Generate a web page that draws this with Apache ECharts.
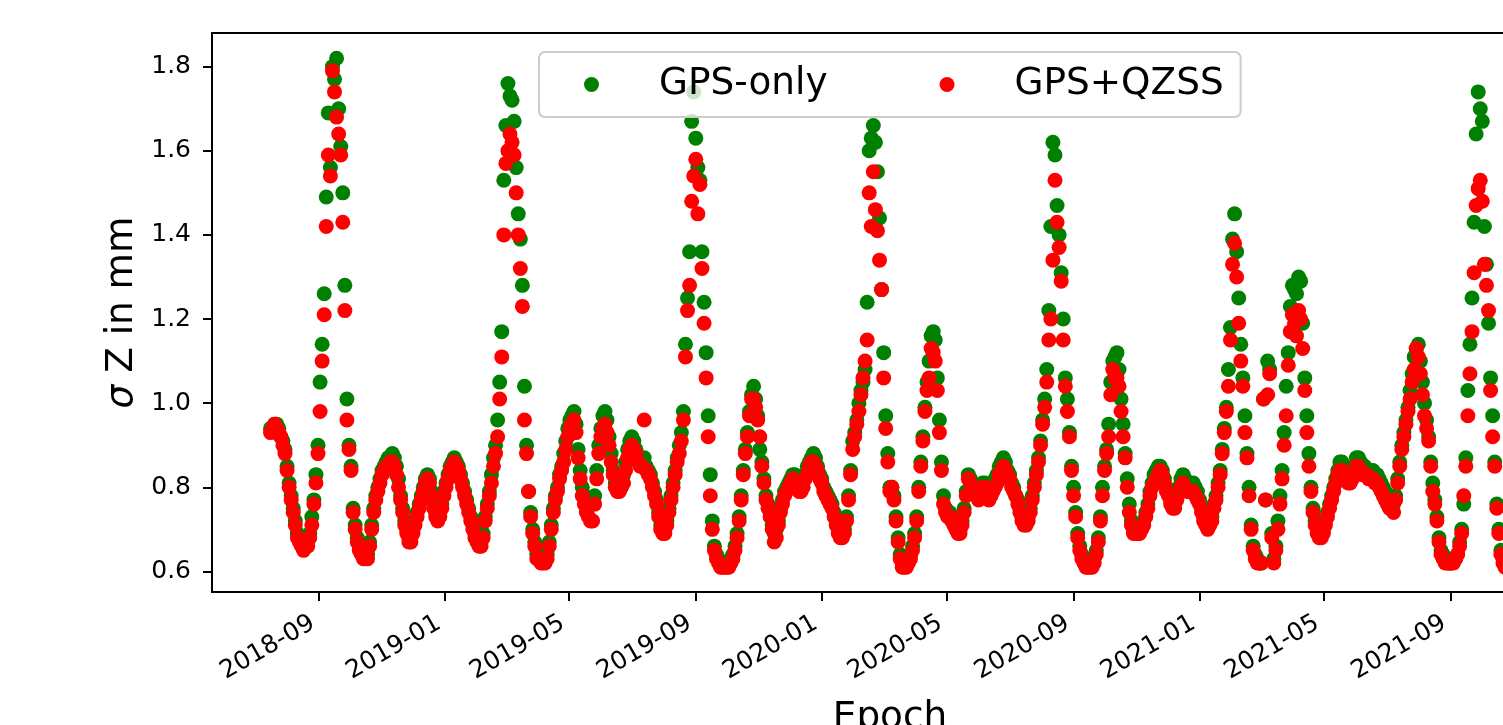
<!DOCTYPE html>
<html><head><meta charset="utf-8">
<script src="https://cdn.jsdelivr.net/npm/echarts@6/dist/echarts.min.js"></script>
<style>html,body{margin:0;padding:0;background:#fff}#c{width:1503px;height:725px}</style>
</head><body><div id="c"></div>
<script>
// Data (sampled every 2 days starting 2018-07-16)
const startDate = '2018-07-16';
const stepDays = 2;
const xTickLabels = ['2018-09','2019-01','2019-05','2019-09','2020-01','2020-05','2020-09','2021-01','2021-05','2021-09'];
const yTickValues = [0.6,0.8,1.0,1.2,1.4,1.6,1.8];
const seriesNames = ['GPS-only','GPS+QZSS'];

const gpsOnly = [
0.94,0.94,0.95,0.95,0.94,0.92,0.91,0.89,0.85,0.81,
0.78,0.75,0.72,0.69,0.68,0.67,0.66,0.67,0.67,0.69,
0.73,0.77,0.83,0.90,1.05,1.14,1.26,1.49,1.69,1.56,
1.80,1.77,1.82,1.70,1.61,1.50,1.28,1.01,0.90,0.85,
0.75,0.71,0.68,0.66,0.65,0.64,0.64,0.64,0.67,0.71,
0.75,0.78,0.80,0.82,0.84,0.85,0.86,0.87,0.87,0.88,
0.87,0.85,0.82,0.78,0.75,0.72,0.70,0.68,0.68,0.70,
0.72,0.74,0.76,0.78,0.80,0.82,0.83,0.82,0.79,0.76,
0.74,0.73,0.74,0.76,0.79,0.81,0.83,0.85,0.86,0.87,
0.86,0.85,0.83,0.81,0.79,0.77,0.75,0.73,0.71,0.69,
0.68,0.67,0.67,0.69,0.73,0.76,0.79,0.83,0.87,0.90,
0.96,1.05,1.17,1.53,1.66,1.76,1.73,1.72,1.67,1.56,
1.45,1.39,1.28,1.04,0.90,0.79,0.74,0.70,0.67,0.64,
0.64,0.63,0.63,0.63,0.64,0.67,0.71,0.75,0.78,0.80,
0.83,0.85,0.88,0.91,0.94,0.96,0.97,0.98,0.95,0.89,
0.84,0.80,0.78,0.77,0.76,0.76,0.76,0.78,0.84,0.90,
0.94,0.97,0.98,0.96,0.92,0.88,0.84,0.81,0.80,0.80,
0.81,0.83,0.86,0.89,0.91,0.92,0.91,0.89,0.87,0.86,
0.86,0.87,0.85,0.84,0.83,0.81,0.79,0.77,0.74,0.71,
0.70,0.70,0.72,0.75,0.78,0.81,0.84,0.87,0.90,0.93,
0.98,1.14,1.25,1.36,1.67,1.74,1.63,1.56,1.53,1.36,
1.24,1.12,0.97,0.83,0.72,0.66,0.64,0.63,0.62,0.62,
0.62,0.62,0.62,0.63,0.64,0.66,0.69,0.73,0.78,0.84,
0.89,0.93,0.98,1.02,1.04,1.01,0.97,0.89,0.86,0.82,
0.78,0.76,0.74,0.71,0.69,0.70,0.72,0.75,0.77,0.79,
0.80,0.81,0.82,0.83,0.83,0.82,0.81,0.81,0.82,0.83,
0.85,0.86,0.87,0.88,0.87,0.85,0.83,0.82,0.80,0.79,
0.78,0.77,0.76,0.74,0.72,0.70,0.69,0.69,0.70,0.73,
0.78,0.84,0.91,0.93,0.96,1.00,1.03,1.05,1.08,1.24,
1.60,1.63,1.66,1.62,1.55,1.44,1.27,1.12,0.97,0.88,
0.80,0.80,0.78,0.73,0.68,0.64,0.62,0.62,0.62,0.63,
0.64,0.66,0.69,0.73,0.80,0.86,0.92,0.99,1.05,1.10,
1.16,1.17,1.15,1.06,0.96,0.86,0.78,0.75,0.74,0.74,
0.73,0.72,0.71,0.70,0.70,0.72,0.75,0.79,0.83,0.82,
0.81,0.80,0.79,0.79,0.80,0.81,0.81,0.80,0.79,0.80,
0.81,0.82,0.83,0.85,0.86,0.87,0.86,0.84,0.83,0.81,
0.80,0.78,0.77,0.75,0.73,0.72,0.72,0.73,0.75,0.78,
0.81,0.84,0.87,0.91,0.96,1.01,1.08,1.22,1.42,1.62,
1.59,1.47,1.40,1.31,1.20,1.06,1.01,0.93,0.85,0.80,
0.74,0.69,0.66,0.64,0.63,0.62,0.62,0.62,0.62,0.63,
0.65,0.68,0.73,0.80,0.85,0.89,0.95,1.05,1.10,1.11,
1.12,1.08,1.01,0.95,0.88,0.82,0.76,0.72,0.70,0.70,
0.70,0.70,0.71,0.72,0.74,0.76,0.79,0.81,0.83,0.84,
0.85,0.85,0.84,0.82,0.80,0.79,0.77,0.76,0.76,0.78,
0.80,0.82,0.83,0.82,0.81,0.80,0.80,0.81,0.80,0.79,
0.77,0.75,0.73,0.72,0.72,0.72,0.73,0.76,0.78,0.81,
0.84,0.89,0.94,0.99,1.08,1.18,1.39,1.45,1.36,1.25,
1.14,1.06,0.97,0.88,0.80,0.71,0.66,0.64,0.63,0.62,
0.62,1.01,0.77,1.10,1.08,0.69,0.63,0.66,0.72,0.78,
0.84,0.93,1.04,1.12,1.23,1.28,1.27,1.26,1.30,1.29,
1.19,1.06,0.97,0.88,0.80,0.75,0.72,0.70,0.69,0.69,
0.70,0.72,0.74,0.76,0.78,0.80,0.82,0.84,0.86,0.86,
0.85,0.84,0.83,0.83,0.84,0.85,0.87,0.87,0.86,0.85,
0.85,0.84,0.84,0.84,0.84,0.83,0.83,0.82,0.81,0.80,
0.79,0.78,0.77,0.76,0.76,0.78,0.82,0.86,0.90,0.93,
0.96,0.99,1.03,1.07,1.11,1.13,1.14,1.10,1.05,1.00,
0.96,0.92,0.86,0.81,0.77,0.73,0.68,0.65,0.64,0.63,
0.63,0.62,0.62,0.63,0.63,0.64,0.67,0.70,0.76,0.87,
1.03,1.14,1.25,1.43,1.64,1.74,1.70,1.67,1.42,1.33,
1.19,1.06,0.97,0.86,0.76,0.70,0.65,0.63,0.62,0.62
];

const gpsQzss = [
0.93,0.94,0.95,0.94,0.93,0.92,0.90,0.88,0.84,0.80,
0.77,0.74,0.71,0.68,0.67,0.66,0.65,0.66,0.66,0.68,
0.71,0.76,0.81,0.88,0.98,1.10,1.21,1.42,1.59,1.54,
1.79,1.74,1.68,1.64,1.59,1.43,1.22,0.96,0.89,0.84,
0.74,0.70,0.67,0.65,0.64,0.63,0.63,0.63,0.66,0.70,
0.74,0.77,0.79,0.81,0.83,0.84,0.85,0.85,0.86,0.86,
0.85,0.83,0.80,0.77,0.74,0.71,0.69,0.67,0.67,0.69,
0.71,0.73,0.75,0.77,0.79,0.81,0.82,0.81,0.78,0.75,
0.73,0.72,0.73,0.75,0.78,0.80,0.82,0.84,0.85,0.86,
0.85,0.84,0.82,0.80,0.78,0.76,0.74,0.72,0.70,0.68,
0.67,0.66,0.66,0.68,0.72,0.75,0.78,0.81,0.85,0.88,
0.92,1.01,1.11,1.40,1.57,1.60,1.64,1.62,1.59,1.50,
1.40,1.32,1.23,0.96,0.88,0.79,0.73,0.69,0.66,0.63,
0.63,0.62,0.62,0.62,0.63,0.66,0.70,0.74,0.77,0.79,
0.82,0.84,0.86,0.89,0.92,0.94,0.95,0.96,0.93,0.87,
0.82,0.78,0.76,0.74,0.73,0.72,0.72,0.76,0.82,0.88,
0.92,0.94,0.95,0.93,0.90,0.86,0.83,0.80,0.79,0.79,
0.80,0.81,0.84,0.87,0.89,0.90,0.89,0.88,0.86,0.85,
0.85,0.96,0.84,0.83,0.82,0.80,0.78,0.76,0.73,0.70,
0.69,0.69,0.71,0.74,0.77,0.80,0.83,0.86,0.88,0.91,
0.96,1.11,1.22,1.28,1.48,1.54,1.58,1.45,1.52,1.32,
1.19,1.06,0.92,0.78,0.70,0.65,0.63,0.62,0.61,0.61,
0.61,0.61,0.61,0.62,0.63,0.65,0.68,0.72,0.77,0.83,
0.88,0.92,0.97,1.01,1.01,0.99,0.96,0.92,0.85,0.81,
0.77,0.75,0.73,0.70,0.67,0.68,0.71,0.74,0.76,0.78,
0.79,0.80,0.81,0.82,0.81,0.80,0.79,0.79,0.80,0.82,
0.83,0.85,0.86,0.86,0.85,0.84,0.82,0.81,0.79,0.78,
0.77,0.76,0.75,0.73,0.71,0.69,0.68,0.68,0.69,0.72,
0.77,0.83,0.89,0.92,0.95,0.98,1.02,1.06,1.10,1.15,
1.50,1.42,1.55,1.46,1.41,1.34,1.27,1.06,0.94,0.86,
0.79,0.80,0.77,0.72,0.67,0.63,0.61,0.61,0.61,0.62,
0.63,0.65,0.68,0.72,0.79,0.85,0.91,0.98,1.03,1.06,
1.13,1.12,1.10,1.03,0.93,0.84,0.76,0.74,0.73,0.73,
0.72,0.71,0.70,0.69,0.69,0.71,0.74,0.78,0.82,0.81,
0.80,0.79,0.78,0.77,0.78,0.80,0.80,0.78,0.77,0.78,
0.79,0.80,0.81,0.83,0.84,0.85,0.84,0.83,0.82,0.80,
0.79,0.78,0.76,0.74,0.72,0.71,0.71,0.72,0.74,0.77,
0.80,0.83,0.86,0.90,0.95,0.99,1.05,1.15,1.20,1.34,
1.53,1.43,1.37,1.29,1.15,1.04,0.98,0.92,0.84,0.78,
0.73,0.68,0.65,0.63,0.62,0.61,0.61,0.61,0.61,0.62,
0.64,0.67,0.72,0.78,0.84,0.88,0.92,1.02,1.08,1.06,
1.06,1.04,0.98,0.92,0.87,0.80,0.74,0.71,0.69,0.69,
0.69,0.69,0.70,0.71,0.73,0.75,0.78,0.80,0.81,0.82,
0.83,0.84,0.83,0.81,0.79,0.78,0.76,0.75,0.75,0.77,
0.79,0.80,0.81,0.80,0.79,0.79,0.79,0.79,0.78,0.77,
0.76,0.74,0.72,0.71,0.70,0.71,0.72,0.75,0.77,0.80,
0.83,0.88,0.93,0.98,1.04,1.15,1.33,1.38,1.30,1.19,
1.10,1.04,0.93,0.87,0.78,0.70,0.65,0.63,0.62,0.62,
0.62,1.01,0.77,1.02,1.07,0.68,0.62,0.65,0.70,0.76,
0.82,0.90,0.97,1.09,1.17,1.21,1.19,1.16,1.22,1.20,
1.13,1.03,0.93,0.85,0.79,0.74,0.71,0.69,0.68,0.68,
0.69,0.71,0.73,0.75,0.77,0.79,0.81,0.83,0.84,0.84,
0.83,0.82,0.81,0.81,0.82,0.83,0.85,0.85,0.84,0.83,
0.83,0.83,0.82,0.82,0.82,0.81,0.81,0.80,0.79,0.78,
0.77,0.76,0.75,0.75,0.74,0.77,0.81,0.85,0.89,0.92,
0.95,0.98,1.01,1.05,1.08,1.13,1.11,1.07,1.02,0.97,
0.94,0.91,0.85,0.79,0.76,0.72,0.67,0.64,0.63,0.62,
0.62,0.62,0.62,0.62,0.63,0.64,0.66,0.69,0.78,0.85,
0.97,1.07,1.17,1.31,1.47,1.51,1.53,1.48,1.33,1.28,
1.22,1.03,0.92,0.85,0.75,0.69,0.64,0.62,0.61,0.61
];

const DAY = 86400000;
const t0 = Date.parse(startDate + 'T00:00:00Z');
function toSeries(vals) { return vals.map((v, i) => [t0 + i * stepDays * DAY, v]); }
function monthTs(s) { const [y, m] = s.split('-').map(Number); return Date.UTC(y, m - 1, 1); }
const xTickValues = xTickLabels.map(monthTs);
function fmtMonth(v) { const d = new Date(v); return d.getUTCFullYear() + '-' + String(d.getUTCMonth() + 1).padStart(2, '0'); }

// legend handle: a dot centred in a 75px handle, plus 25px extra text padding (box 100 x 15)
const legendIcon = 'path://M0,7.5L0,7.5M30,7.5A7.5,7.5,0,1,0,45,7.5A7.5,7.5,0,1,0,30,7.5ZM100,7.5L100,7.5';

const FONT = 'DejaVu Sans';
const chart = echarts.init(document.getElementById('c'), null, { renderer: 'canvas' });
chart.setOption({
  animation: false,
  backgroundColor: '#ffffff',
  grid: { left: 212, top: 33, width: 1356, height: 559, containLabel: false, outerBoundsMode: 'none',
    show: true, borderColor: '#000', borderWidth: 2, backgroundColor: 'transparent' },
  legend: {
    left: 539, top: 52, orient: 'horizontal',
    padding: [14, 17, 14, 15],
    itemWidth: 100, itemHeight: 15, itemGap: 82,
    icon: legendIcon,
    backgroundColor: 'rgba(255,255,255,0.8)',
    borderColor: '#cccccc', borderWidth: 2, borderRadius: 6,
    textStyle: { fontFamily: FONT, fontSize: 37.4, color: '#000' },
    data: seriesNames
  },
  xAxis: {
    type: 'value',
    min: Date.UTC(2018, 4, 20, 7),
    max: Date.UTC(2021, 11, 24),
    name: 'Epoch', nameLocation: 'middle', nameGap: 108,
    nameTextStyle: { fontFamily: FONT, fontSize: 37.4, color: '#000' },
    axisLine: { show: true, onZero: false, lineStyle: { color: '#000', width: 2 } },
    axisTick: { show: true, inside: false, length: 9, lineStyle: { color: '#000', width: 2 }, customValues: xTickValues },
    axisLabel: { show: true, rotate: 30, margin: 26, fontFamily: FONT, fontSize: 25, color: '#000',
      padding: [0, 7, 0, 0], customValues: xTickValues, formatter: fmtMonth, hideOverlap: false },
    splitLine: { show: false }
  },
  yAxis: {
    type: 'value',
    min: 0.551, max: 1.88,
    name: '{s|σ} Z in mm', nameLocation: 'middle', nameGap: 66,
    nameTextStyle: { fontFamily: FONT, fontSize: 37.4, color: '#000',
      rich: { s: { fontFamily: FONT, fontSize: 37.4, fontStyle: 'italic', color: '#000' } } },
    axisLine: { show: true, onZero: false, lineStyle: { color: '#000', width: 2 } },
    axisTick: { show: true, inside: false, length: 9, lineStyle: { color: '#000', width: 2 }, customValues: yTickValues },
    axisLabel: { show: true, margin: 21, fontFamily: FONT, fontSize: 25, color: '#000',
      customValues: yTickValues, formatter: v => Number(v).toFixed(1) },
    splitLine: { show: false }
  },
  series: [
    { name: seriesNames[0], type: 'scatter', data: toSeries(gpsOnly), symbol: 'circle', symbolSize: 15,
      itemStyle: { color: '#008000', opacity: 1 }, z: 2 },
    { name: seriesNames[1], type: 'scatter', data: toSeries(gpsQzss), symbol: 'circle', symbolSize: 15,
      itemStyle: { color: '#ff0000', opacity: 1 }, z: 3 }
  ]
});
</script>
</body></html>
